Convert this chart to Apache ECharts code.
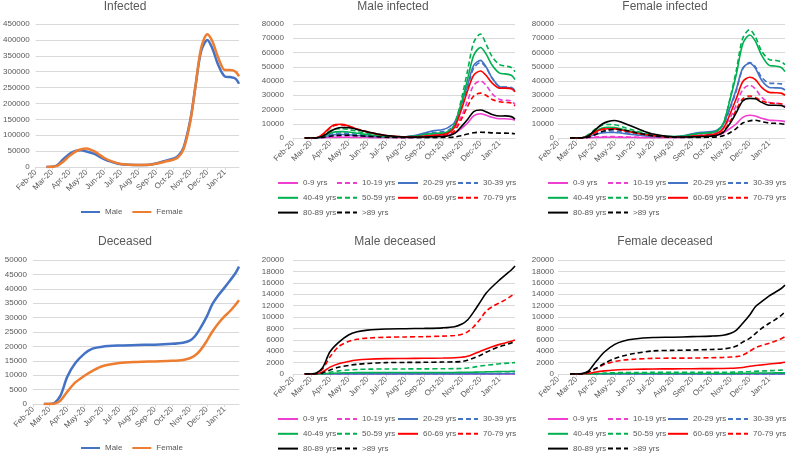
<!DOCTYPE html>
<html><head><meta charset="utf-8">
<script src="https://cdn.jsdelivr.net/npm/echarts@6/dist/echarts.min.js"></script>
<style>html,body{margin:0;padding:0;background:#fff}#c{width:787px;height:454px}</style>
</head><body><div id="c"></div>
<script>
// ---------- tick labels / categories ----------
const monthLabels = ['Feb-20','Mar-20','Apr-20','May-20','Jun-20','Jul-20','Aug-20','Sep-20','Oct-20','Nov-20','Dec-20','Jan-21'];
const ageGroups = ['0-9 yrs','10-19 yrs','20-29 yrs','30-39 yrs','40-49 yrs','50-59 yrs','60-69 yrs','70-79 yrs','80-89 yrs','>89 yrs'];
const sexes = ['Male','Female'];

// ---------- infected (sample dates) ----------
const infDates = ['2020-02-20','2020-03-01','2020-03-10','2020-03-20','2020-04-01','2020-04-10','2020-04-20','2020-05-01','2020-05-15','2020-06-01','2020-06-15','2020-07-01','2020-08-01','2020-08-20','2020-09-01','2020-09-15','2020-10-01','2020-10-10','2020-10-20','2020-11-01','2020-11-10','2020-11-20','2020-12-01','2020-12-10','2020-12-20','2021-01-01','2021-01-10','2021-01-20','2021-01-26'];
const infMaleTotal   = [0,1000,5500,23000,42000,50000,52500,49000,41000,25000,16000,8500,6000,7000,11000,18000,26000,34000,62000,150000,255000,365000,400000,372000,322000,285000,283000,278000,262000];
const infFemaleTotal = [0,500,3500,16000,35000,47000,55000,58500,49000,29000,17500,9500,6500,7000,10000,16000,23000,30000,57000,145000,255000,375000,418000,395000,345000,305000,305000,300000,285000];

const infM_0_9   = [0,0,20,150,350,450,500,480,400,300,250,200,250,400,700,1100,1500,2000,3500,7000,10500,15500,17000,16000,14500,13500,13500,13200,12500];
const infM_10_19 = [0,0,30,250,600,750,800,750,600,450,350,300,400,800,1600,2400,3000,4000,7000,16000,26000,37000,40000,37000,31000,27000,26500,26000,23500];
const infM_20_29 = [0,0,60,600,1800,2400,2500,2300,1800,1300,1000,800,900,2000,3500,5000,6000,7500,11000,25000,37000,51000,54500,50000,42000,36000,35500,35000,32500];
const infM_30_39 = [0,0,80,800,2500,3300,3500,3200,2500,1800,1300,900,800,1500,2800,3800,4500,5500,9500,23000,35000,49000,53000,49500,42000,36000,35800,35500,33500];
const infM_40_49 = [0,0,100,1100,3300,4300,4500,4200,3300,2400,1700,1100,900,1400,2500,3200,3500,4500,9000,26000,41000,58000,63500,59000,51000,45500,45000,44000,41000];
const infM_50_59 = [0,0,150,1800,5000,6300,6500,6000,4600,3300,2300,1400,900,1300,2400,3100,3500,4600,9500,29000,47000,67000,73000,66000,57000,51500,50500,49500,46500];
const infM_60_69 = [0,0,200,2500,7500,9500,9600,8500,6200,4200,2900,1700,800,900,1300,1900,2500,3500,7500,21000,33000,44000,47000,44000,38500,35000,35000,34500,32500];
const infM_70_79 = [0,0,200,2300,7000,9000,9200,8300,6300,4300,3000,1700,700,700,900,1300,1600,2400,5000,14000,22000,29500,31500,30000,27000,25500,25000,24500,22500];
const infM_80_89 = [0,0,100,1200,4500,6500,7400,7300,6000,4300,3000,1800,700,600,700,900,1100,1600,3200,8500,13000,18500,19600,18500,16500,15400,15500,15000,13300];
const infM_90    = [0,0,20,300,1200,1700,1900,1900,1600,1200,900,500,200,150,200,250,300,400,700,1800,2800,3700,4000,3900,3600,3400,3400,3300,3000];

const infF_0_9   = [0,0,20,130,300,420,480,480,400,300,250,200,250,400,700,1100,1500,2000,3500,7000,10000,14500,16000,15500,13800,12500,12300,12000,11500];
const infF_10_19 = [0,0,30,250,650,850,950,950,800,600,450,350,400,800,1500,2300,3000,4000,7000,15000,23500,34000,37000,34500,28500,25000,24500,24000,22000];
const infF_20_29 = [0,0,80,900,2600,3500,3900,3900,3200,2300,1700,1100,900,1800,3000,4000,4500,5500,9500,23000,34500,49000,52500,49000,40500,35500,35200,35000,33700];
const infF_30_39 = [0,0,100,1100,3200,4400,4900,4900,4000,2900,2100,1300,900,1500,2700,3500,4000,5000,9000,22000,33500,48500,53000,50000,42500,38500,38300,38000,36500];
const infF_40_49 = [0,0,150,1800,5000,6800,7500,7400,6000,4300,3100,1900,1000,1400,2500,3300,3800,4800,10000,29000,45000,66000,72300,68000,58000,51000,50500,49500,46600];
const infF_50_59 = [0,0,180,2300,6500,8800,9500,9300,7500,5300,3700,2200,1000,1300,2300,3100,3600,4600,10000,30000,48000,70000,76000,71000,61000,55000,54500,53500,51500];
const infF_60_69 = [0,0,120,1500,4400,6000,6500,6400,5200,3700,2600,1600,700,800,1300,1800,2400,3200,6500,18000,28000,39500,42600,41000,35500,32000,31800,31500,30000];
const infF_70_79 = [0,0,100,1300,4200,5900,6500,6400,5300,3800,2700,1600,600,600,900,1200,1500,2200,4500,12500,20000,27500,29500,28500,26000,24500,24300,24000,22500];
const infF_80_89 = [0,0,100,1500,6000,9500,11500,12300,10500,7500,5000,2800,900,700,800,1000,1300,1900,4000,11000,18000,26000,27800,27500,25000,23000,23000,22800,21500];
const infF_90    = [0,0,30,500,2500,4300,5600,6200,5500,4000,2800,1500,500,300,350,450,550,800,1500,4000,6800,10500,12000,12500,11500,10500,10300,10000,9500];

// ---------- deceased (cumulative, sample dates) ----------
const decDates = ['2020-02-20','2020-03-01','2020-03-10','2020-03-20','2020-04-01','2020-04-15','2020-05-01','2020-05-15','2020-06-01','2020-07-01','2020-08-01','2020-09-01','2020-10-01','2020-10-20','2020-11-01','2020-11-10','2020-11-20','2020-12-01','2020-12-10','2020-12-20','2021-01-01','2021-01-10','2021-01-20','2021-01-26'];
const decMaleTotal   = [0,20,450,2900,9500,14200,17500,19200,19900,20300,20500,20600,20900,21300,22000,23500,26500,30500,34500,37500,40500,42800,45500,47700];
const decFemaleTotal = [0,5,180,1200,4300,7500,9800,11500,13100,14200,14600,14800,15000,15300,15900,16800,18800,22000,25000,27800,30500,32200,34500,36000];

const decM_0_9   = [0,0,0,0,1,2,2,3,3,3,3,3,3,3,3,3,3,4,4,4,4,4,4,4];
const decM_10_19 = [0,0,0,0,1,2,2,3,3,3,3,3,3,3,3,3,4,4,4,5,5,5,5,5];
const decM_20_29 = [0,0,0,2,8,14,17,19,20,20,20,21,21,21,22,23,24,26,27,28,30,31,32,33];
const decM_30_39 = [0,0,1,8,30,50,60,65,68,70,70,71,72,73,75,78,83,88,92,96,100,104,108,110];
const decM_40_49 = [0,0,3,30,100,180,220,240,250,260,262,265,270,275,290,305,325,350,375,400,420,440,460,470];
const decM_50_59 = [0,0,15,100,300,550,700,800,850,880,890,900,920,940,980,1050,1200,1400,1520,1650,1800,1870,1950,2000];
const decM_60_69 = [0,1,50,350,1200,1800,2200,2450,2600,2700,2720,2750,2800,2850,2950,3100,3500,4000,4400,4800,5200,5450,5750,5950];
const decM_70_79 = [0,3,140,900,3000,4800,5700,6100,6300,6450,6500,6550,6650,6750,6960,7400,8300,9700,11000,11800,12500,13000,13700,14200];
const decM_80_89 = [0,5,170,1100,3900,5550,6850,7400,7700,7900,7950,8000,8100,8300,8770,9470,10900,12700,14150,15300,16500,17350,18250,18950];
const decM_90    = [0,0,30,200,700,1200,1500,1700,1850,2000,2030,2050,2100,2130,2200,2400,2800,3300,3800,4300,4800,5100,5450,5700];

const decF_0_9   = [0,0,0,0,0,1,1,1,1,1,1,1,1,1,1,1,1,1,1,1,1,1,1,1];
const decF_10_19 = [0,0,0,0,0,1,1,1,1,1,1,1,1,1,1,1,1,1,1,1,2,2,2,2];
const decF_20_29 = [0,0,0,1,4,7,9,10,11,11,11,11,12,12,12,13,14,15,16,17,18,19,20,20];
const decF_30_39 = [0,0,0,3,10,18,22,25,27,28,28,29,29,30,30,31,33,36,39,42,45,47,49,50];
const decF_40_49 = [0,0,1,10,30,55,70,80,90,95,96,97,98,99,100,105,120,140,155,165,180,190,200,210];
const decF_50_59 = [0,0,3,25,80,160,220,245,260,280,285,290,300,305,320,340,380,430,480,520,580,620,680,720];
const decF_60_69 = [0,0,10,100,350,550,700,780,830,880,900,920,950,970,1000,1050,1150,1350,1480,1600,1750,1850,1950,2050];
const decF_70_79 = [0,1,40,300,900,1700,2200,2450,2600,2750,2780,2800,2850,2900,2980,3050,3300,4000,4600,5000,5400,5750,6200,6550];
const decF_80_89 = [0,2,60,500,2150,3900,5200,5800,6150,6400,6450,6550,6650,6800,7130,7700,8900,10350,11800,12700,13700,14300,15000,15600];
const decF_90    = [0,1,30,350,1000,1900,2700,3200,3600,4050,4150,4200,4300,4400,4600,4900,5600,6250,7100,8000,8900,9500,10300,10950];

// ---------- helpers ----------
const FONT = "'Liberation Sans', Arial, sans-serif";
const T0 = Date.UTC(2020, 1, 1);
const dayOf = s => Math.round((Date.parse(s + 'T00:00:00Z') - T0) / 86400000);
const MON = {Jan:0,Feb:1,Mar:2,Apr:3,May:4,Jun:5,Jul:6,Aug:7,Sep:8,Oct:9,Nov:10,Dec:11};
const monthDays = monthLabels.map(l => Math.round((Date.UTC(2000 + +l.slice(4), MON[l.slice(0,3)], 1) - T0) / 86400000));
const labelOf = {}; monthDays.forEach((d, i) => labelOf[d] = monthLabels[i]);
const END = dayOf(infDates[infDates.length - 1]);
const pairs = (dates, vals) => dates.map((d, i) => [dayOf(d), vals[i]]);

const ageStyle = {
  '0-9 yrs':['#EE3FD0','solid'], '10-19 yrs':['#EE3FD0','dashed'],
  '20-29 yrs':['#4472C4','solid'], '30-39 yrs':['#4472C4','dashed'],
  '40-49 yrs':['#00B050','solid'], '50-59 yrs':['#00B050','dashed'],
  '60-69 yrs':['#FF0000','solid'], '70-79 yrs':['#FF0000','dashed'],
  '80-89 yrs':['#000000','solid'], '>89 yrs':['#000000','dashed']
};
const sexColor = {Male:'#4472C4', Female:'#ED7D31'};

const grids = [
  {left:33,  top:24,  width:206, height:143},
  {left:293, top:24,  width:222, height:114},
  {left:558, top:24,  width:227, height:114},
  {left:33,  top:260, width:206, height:144},
  {left:293, top:260, width:222, height:114},
  {left:558, top:260, width:227, height:114}
];
const yCfg = [[450000,50000,6],[80000,10000,9],[80000,10000,4],[50000,5000,6],[20000,2000,9],[20000,2000,4]];

const xAxes = grids.map((g, i) => ({
  type:'value', gridIndex:i, min:0, max:END,
  axisLine:{show:true, lineStyle:{color:'#d9d9d9', width:1}},
  axisTick:{show:true, length:3, customValues:monthDays, lineStyle:{color:'#d9d9d9'}},
  splitLine:{show:false},
  axisLabel:{customValues:monthDays, rotate:45, fontSize:8, color:'#595959', margin:4, fontFamily:FONT,
    formatter: v => labelOf[v] || ''}
}));
const yAxes = yCfg.map((c, i) => ({
  type:'value', gridIndex:i, min:0, max:c[0], interval:c[1],
  axisLine:{show:false}, axisTick:{show:false},
  splitLine:{lineStyle:{color:'#d9d9d9', width:1}},
  axisLabel:{fontSize:8, color:'#595959', margin:c[2], fontFamily:FONT, formatter: v => String(v)}
}));

const series = [];
function addLine(name, idx, dates, vals, color, type, width) {
  series.push({
    type:'line', name, xAxisIndex:idx, yAxisIndex:idx, data:pairs(dates, vals),
    symbol:'none', showSymbol:false, smooth:0.3,
    lineStyle:{color, width, type: type === 'dashed' ? [5,3] : 'solid'},
    itemStyle:{color}
  });
}
addLine('Male', 0, infDates, infMaleTotal, sexColor.Male, 'solid', 2.5);
addLine('Female', 0, infDates, infFemaleTotal, sexColor.Female, 'solid', 2.5);
addLine('Male', 3, decDates, decMaleTotal, sexColor.Male, 'solid', 2.5);
addLine('Female', 3, decDates, decFemaleTotal, sexColor.Female, 'solid', 2.5);

const infM = [infM_0_9,infM_10_19,infM_20_29,infM_30_39,infM_40_49,infM_50_59,infM_60_69,infM_70_79,infM_80_89,infM_90];
const infF = [infF_0_9,infF_10_19,infF_20_29,infF_30_39,infF_40_49,infF_50_59,infF_60_69,infF_70_79,infF_80_89,infF_90];
const decM = [decM_0_9,decM_10_19,decM_20_29,decM_30_39,decM_40_49,decM_50_59,decM_60_69,decM_70_79,decM_80_89,decM_90];
const decF = [decF_0_9,decF_10_19,decF_20_29,decF_30_39,decF_40_49,decF_50_59,decF_60_69,decF_70_79,decF_80_89,decF_90];
[[1,infDates,infM],[2,infDates,infF],[4,decDates,decM],[5,decDates,decF]].forEach(([idx, dates, arrs]) => {
  ageGroups.forEach((g, k) => addLine(g, idx, dates, arrs[k], ageStyle[g][0], ageStyle[g][1], 1.6));
});

// ---------- legends ----------
const legTxt = {fontSize:8, color:'#595959', fontFamily:FONT, lineHeight:10};
const hideSym = {opacity:0, borderWidth:0};
const legends = [
  {data:sexes, left:80, top:207, orient:'horizontal', itemWidth:19, itemHeight:10, itemGap:9, padding:0, textStyle:legTxt, itemStyle:hideSym},
  {data:sexes, left:80, top:443, orient:'horizontal', itemWidth:19, itemHeight:10, itemGap:9, padding:0, textStyle:legTxt, itemStyle:hideSym}
];
const cols = [[0,4,8],[1,5,9],[2,6],[3,7]];
[[[277,336,397,457],178],[[547,607,667,727],178],[[277,336,397,457],414],[[547,607,667,727],414]].forEach(([xs, top]) => {
  cols.forEach((c, j) => legends.push({
    data:c.map(k => ageGroups[k]), left:xs[j], top, orient:'vertical',
    itemWidth:20, itemHeight:10, itemGap:4.8, padding:0, textStyle:legTxt, itemStyle:hideSym
  }));
});

// ---------- titles ----------
const titles = [['Infected',125,6.5],['Male infected',393,6.5],['Female infected',665,6.5],['Deceased',125,242],['Male deceased',395,242],['Female deceased',665,242]];
const graphic = titles.map(t => ({
  type:'text', x:t[1], y:t[2],
  style:{text:t[0], font:'12px ' + FONT, fill:'#595959', textAlign:'center', textVerticalAlign:'middle'}
}));

const chart = echarts.init(document.getElementById('c'), null, {renderer:'canvas'});
chart.setOption({
  animation:false, backgroundColor:'#ffffff',
  textStyle:{fontFamily:FONT},
  grid:grids, xAxis:xAxes, yAxis:yAxes, legend:legends, series, graphic
});
</script></body></html>
